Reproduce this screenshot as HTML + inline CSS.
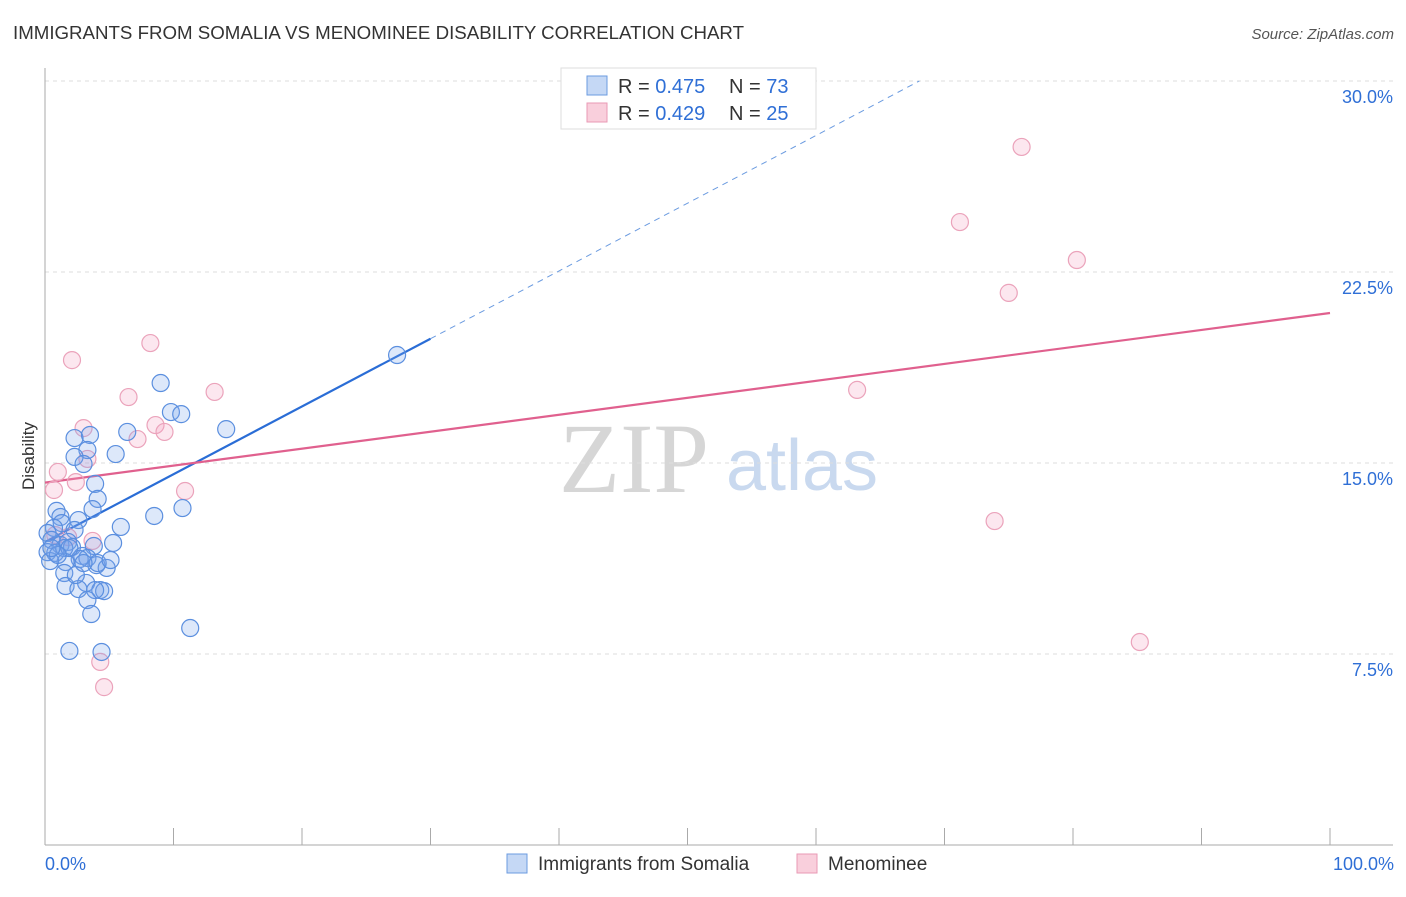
<!DOCTYPE html>
<html><head><meta charset="utf-8"><style>
body{margin:0;background:#fff;font-family:"Liberation Sans",sans-serif;}
svg text{font-family:"Liberation Sans",sans-serif;}
</style></head><body>
<svg id="chart" width="1406" height="892" viewBox="0 0 1406 892" xmlns="http://www.w3.org/2000/svg">
<text x="13" y="39" font-size="18.7" fill="#333">IMMIGRANTS FROM SOMALIA VS MENOMINEE DISABILITY CORRELATION CHART</text>
<text x="1394" y="39" font-size="15" fill="#555" text-anchor="end" font-style="italic">Source: ZipAtlas.com</text>
<g>
<text x="634" y="492" font-size="100" fill="#d6d6d6" text-anchor="middle" style="font-family:'Liberation Serif',serif">ZIP</text>
<text x="802" y="490" font-size="72" fill="#c9d9ef" text-anchor="middle">atlas</text>
</g>
<g id="grid"></g>
<g id="axes"></g>
<g id="lines"></g>
<g id="points"></g>
<text transform="translate(34,456) rotate(-90)" font-size="17" fill="#333" text-anchor="middle">Disability</text>
<g>
<rect x="561" y="68" width="255" height="61" fill="#fff" stroke="#ddd"/>
<rect x="587" y="76" width="20" height="19" fill="#c5d8f5" stroke="#6b9be0"/>
<text x="618" y="93" font-size="20" fill="#333">R = <tspan fill="#2f6fd6">0.475</tspan></text>
<text x="729" y="93" font-size="20" fill="#333">N = <tspan fill="#2f6fd6">73</tspan></text>
<rect x="587" y="103" width="20" height="19" fill="#f9cfdc" stroke="#e99ab5"/>
<text x="618" y="120" font-size="20" fill="#333">R = <tspan fill="#2f6fd6">0.429</tspan></text>
<text x="729" y="120" font-size="20" fill="#333">N = <tspan fill="#2f6fd6">25</tspan></text>
</g>
<g>
<rect x="507" y="854" width="20" height="19" fill="#c5d8f5" stroke="#6b9be0"/>
<text x="538" y="870" font-size="19" fill="#333">Immigrants from Somalia</text>
<rect x="797" y="854" width="20" height="19" fill="#f9cfdc" stroke="#e99ab5"/>
<text x="828" y="870" font-size="19" fill="#333">Menominee</text>
</g>
</svg>
<script>
const yTicks=[7.5,15,22.5,30];
const yTickLabels=["7.5%","15.0%","22.5%","30.0%"];
const xEdgeLabels=["0.0%","100.0%"];
const somaliaX=[27.4,9.0,9.8,10.6,14.1,6.4,2.3,3.5,3.3,5.5,2.3,3.0,3.9,4.1,3.7,10.7,8.5,0.9,1.2,2.6,1.3,5.9,0.7,2.3,0.2,0.5,1.2,1.8,2.1,3.8,5.3,0.2,0.8,1.5,2.9,3.3,2.7,1.6,0.4,4.0,4.8,4.1,1.5,3.2,1.6,2.6,4.3,4.6,3.9,3.3,3.6,11.3,1.9,4.4,1.9,1.0,0.5,2.4,3.0,5.1];
const somaliaY=[19.24,18.14,17.0,16.92,16.33,16.22,15.98,16.1,15.51,15.35,15.24,14.96,14.18,13.59,13.19,13.23,12.92,13.12,12.88,12.76,12.64,12.49,12.45,12.37,12.25,11.98,11.78,11.9,11.7,11.74,11.86,11.5,11.47,11.66,11.35,11.27,11.23,11.11,11.15,10.99,10.88,11.07,10.68,10.29,10.17,10.05,10.01,9.97,10.01,9.62,9.07,8.52,7.62,7.58,11.66,11.39,11.66,10.6,11.07,11.19];
const menomineeX=[76.0,71.2,80.3,75.0,8.2,2.1,6.5,13.2,63.2,3.0,8.6,9.3,7.2,3.3,1.0,2.4,0.7,10.9,73.9,3.7,1.8,85.2,4.3,4.6,0.8];
const menomineeY=[27.41,24.46,22.97,21.68,19.71,19.04,17.59,17.79,17.87,16.37,16.49,16.22,15.94,15.16,14.65,14.25,13.94,13.9,12.72,11.94,12.09,7.97,7.19,6.2,12.17];
const somaliaTrend=[11.9,0.266];
const menomineeTrend=[14.23,0.0666];
const NS="http://www.w3.org/2000/svg";
const x0=45,x1=1330,y0=845,pxPerPct=191/7.5;
function sx(v){return x0+(x1-x0)*v/100;}
function sy(v){return y0-v*pxPerPct;}
function mk(tag,attrs,parent){const e=document.createElementNS(NS,tag);for(const k in attrs)e.setAttribute(k,attrs[k]);document.getElementById(parent).appendChild(e);return e;}
yTicks.forEach((t,i)=>{
 const g=mk('line',{x1:x0,x2:1393,y1:sy(t),y2:sy(t),stroke:'#ddd','stroke-dasharray':'4,4'},'grid');
 
 
 const l=mk('text',{x:1393,y:sy(t)+22,'font-size':18,fill:'#2f6fd6','text-anchor':'end'},'grid');
 l.textContent=yTickLabels[i];
 
 
});
const ya=mk('line',{x1:x0,x2:x0,y1:68,y2:y0,stroke:'#aaa'},'axes');


const xa=mk('line',{x1:x0,x2:1393,y1:y0,y2:y0,stroke:'#aaa'},'axes');


for(let i=0;i<=10;i++){
 const t=mk('line',{x1:sx(i*10),x2:sx(i*10),y1:y0,y2:828,stroke:'#aaa'},'axes');
 
 
}
[[0,'start'],[100,'end']].forEach((p,i)=>{
 const t=mk('text',{x:sx(p[0])+(i?64:0),y:870,'font-size':18,fill:'#2f6fd6','text-anchor':p[1]},'axes');
 t.textContent=xEdgeLabels[i];
 
 
});
const bEnd=(30-somaliaTrend[0])/somaliaTrend[1];
const bs=mk('line',{x1:sx(0),y1:sy(somaliaTrend[0]),x2:sx(30),y2:sy(somaliaTrend[0]+somaliaTrend[1]*30),stroke:'#2a6dd6','stroke-width':2.2},'lines');


const bd=mk('line',{x1:sx(30),y1:sy(somaliaTrend[0]+somaliaTrend[1]*30),x2:sx(bEnd),y2:sy(30),stroke:'#6b9be0','stroke-width':1,'stroke-dasharray':'6,5'},'lines');


const pl=mk('line',{x1:sx(0),y1:sy(menomineeTrend[0]),x2:sx(100),y2:sy(menomineeTrend[0]+menomineeTrend[1]*100),stroke:'#e0608e','stroke-width':2.2},'lines');


menomineeX.forEach((v,i)=>{
 const c=mk('circle',{cx:sx(v),cy:sy(menomineeY[i]),r:8.5,fill:'rgba(244,160,190,0.25)',stroke:'#eba3bb','stroke-width':1.2},'points');
 
 
});
somaliaX.forEach((v,i)=>{
 const c=mk('circle',{cx:sx(v),cy:sy(somaliaY[i]),r:8.5,fill:'rgba(120,165,235,0.25)',stroke:'#5b8fdf','stroke-width':1.2},'points');
 
 
});
</script>
</body></html>
